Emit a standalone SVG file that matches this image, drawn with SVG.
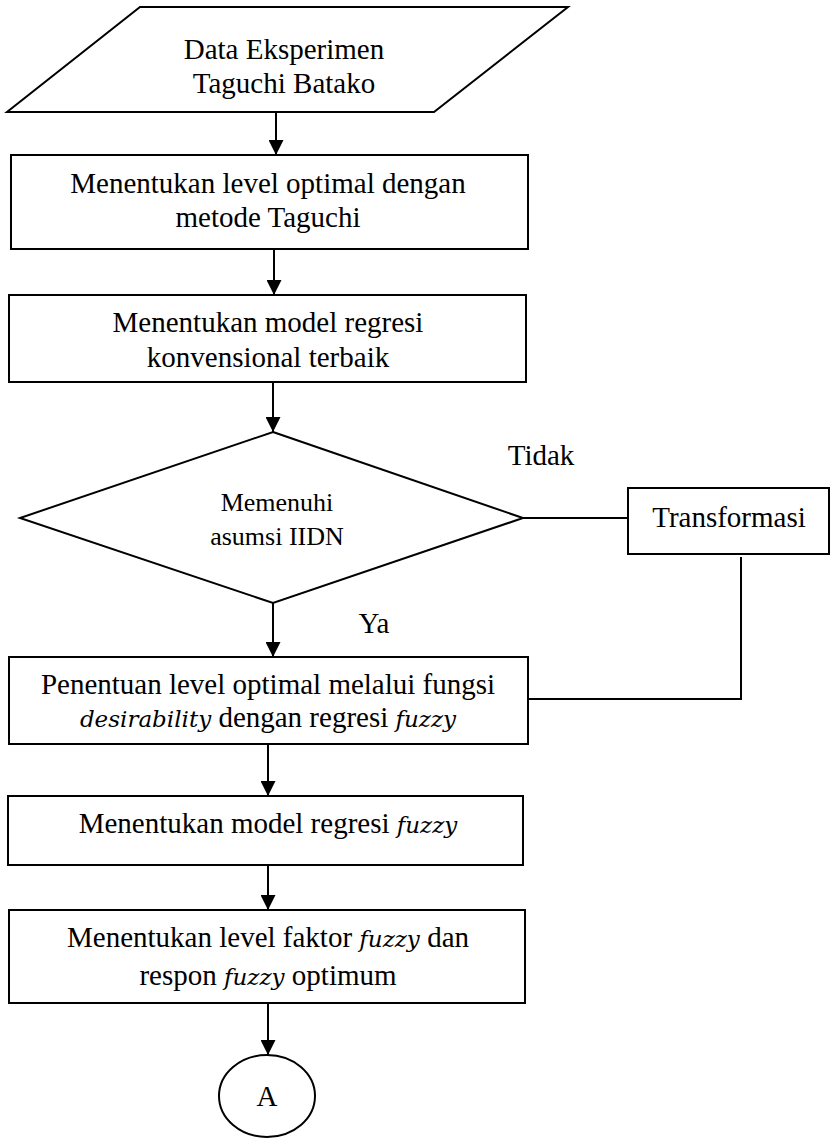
<svg xmlns="http://www.w3.org/2000/svg" width="830" height="1138" viewBox="0 0 830 1138">
<style>
.s{fill:#fff;stroke:#000;stroke-width:2}
.t{font-size:29px;fill:#000;text-anchor:middle}
.d{font-size:26px}
.c{fill:none;stroke:#000;stroke-width:2}
</style>
<defs>
<marker id="ah" markerUnits="userSpaceOnUse" markerWidth="15" markerHeight="15" refX="15" refY="7.5" orient="auto">
<path d="M0,0 L15,7.5 L0,15 z" fill="#000"/>
</marker>
</defs>
<rect width="830" height="1138" fill="#fff"/>
<g id="connectors" font-family="Liberation Serif">
<line class="c" x1="276" y1="112" x2="276" y2="155" marker-end="url(#ah)"/>
<line class="c" x1="274" y1="249" x2="274" y2="295" marker-end="url(#ah)"/>
<line class="c" x1="273" y1="382" x2="273" y2="432" marker-end="url(#ah)"/>
<line class="c" x1="273" y1="603" x2="273" y2="657" marker-end="url(#ah)"/>
<line class="c" x1="268" y1="744" x2="268" y2="796" marker-end="url(#ah)"/>
<line class="c" x1="268" y1="865" x2="268" y2="910" marker-end="url(#ah)"/>
<line class="c" x1="268" y1="1003" x2="268" y2="1055" marker-end="url(#ah)"/>
<line class="c" x1="523" y1="518" x2="628" y2="518"/>
<polyline class="c" points="741,557 741,699 528,699"/>
<text class="t" x="541" y="465">Tidak</text>
<text class="t" x="374" y="633">Ya</text>
</g>
<g id="n1" font-family="Liberation Serif">
<polygon class="s" points="140,7 568,7 434,112 7,112"/>
<text class="t" x="284" y="59">Data Eksperimen</text>
<text class="t" x="284" y="93">Taguchi Batako</text>
</g>
<g id="n2" font-family="Liberation Serif">
<rect class="s" x="11" y="155" width="517" height="94"/>
<text class="t" x="268" y="193">Menentukan level optimal dengan</text>
<text class="t" x="268" y="227">metode Taguchi</text>
</g>
<g id="n3" font-family="Liberation Serif">
<rect class="s" x="9" y="295" width="517" height="87"/>
<text class="t" x="268" y="332">Menentukan model regresi</text>
<text class="t" x="268" y="367">konvensional terbaik</text>
</g>
<g id="n4" font-family="Liberation Serif">
<polygon class="s" points="273,432 523,518 273,603 20,518"/>
<text class="t d" x="277" y="511">Memenuhi</text>
<text class="t d" x="277" y="545">asumsi IIDN</text>
</g>
<g id="n5" font-family="Liberation Serif">
<rect class="s" x="628" y="488" width="201" height="66"/>
<text class="t" x="729" y="527">Transformasi</text>
</g>
<g id="n6" font-family="Liberation Serif">
<rect class="s" x="9" y="657" width="519" height="87"/>
<text class="t" x="268" y="694">Penentuan level optimal melalui fungsi</text>
<text class="t" x="268" y="727"><tspan font-family="DejaVu Serif" font-style="italic" font-size="23">desirability</tspan> dengan regresi <tspan font-family="DejaVu Serif" font-style="italic" font-size="23">fuzzy</tspan></text>
</g>
<g id="n7" font-family="Liberation Serif">
<rect class="s" x="8" y="796" width="515" height="69"/>
<text class="t" x="268" y="833">Menentukan model regresi <tspan font-family="DejaVu Serif" font-style="italic" font-size="23">fuzzy</tspan></text>
</g>
<g id="n8" font-family="Liberation Serif">
<rect class="s" x="9" y="910" width="516" height="93"/>
<text class="t" x="268" y="947">Menentukan level faktor <tspan font-family="DejaVu Serif" font-style="italic" font-size="23">fuzzy</tspan> dan</text>
<text class="t" x="268" y="985">respon <tspan font-family="DejaVu Serif" font-style="italic" font-size="23">fuzzy</tspan> optimum</text>
</g>
<g id="n9" font-family="Liberation Serif">
<ellipse class="s" cx="267" cy="1096" rx="48" ry="41"/>
<text class="t" x="267" y="1106">A</text>
</g>
</svg>
